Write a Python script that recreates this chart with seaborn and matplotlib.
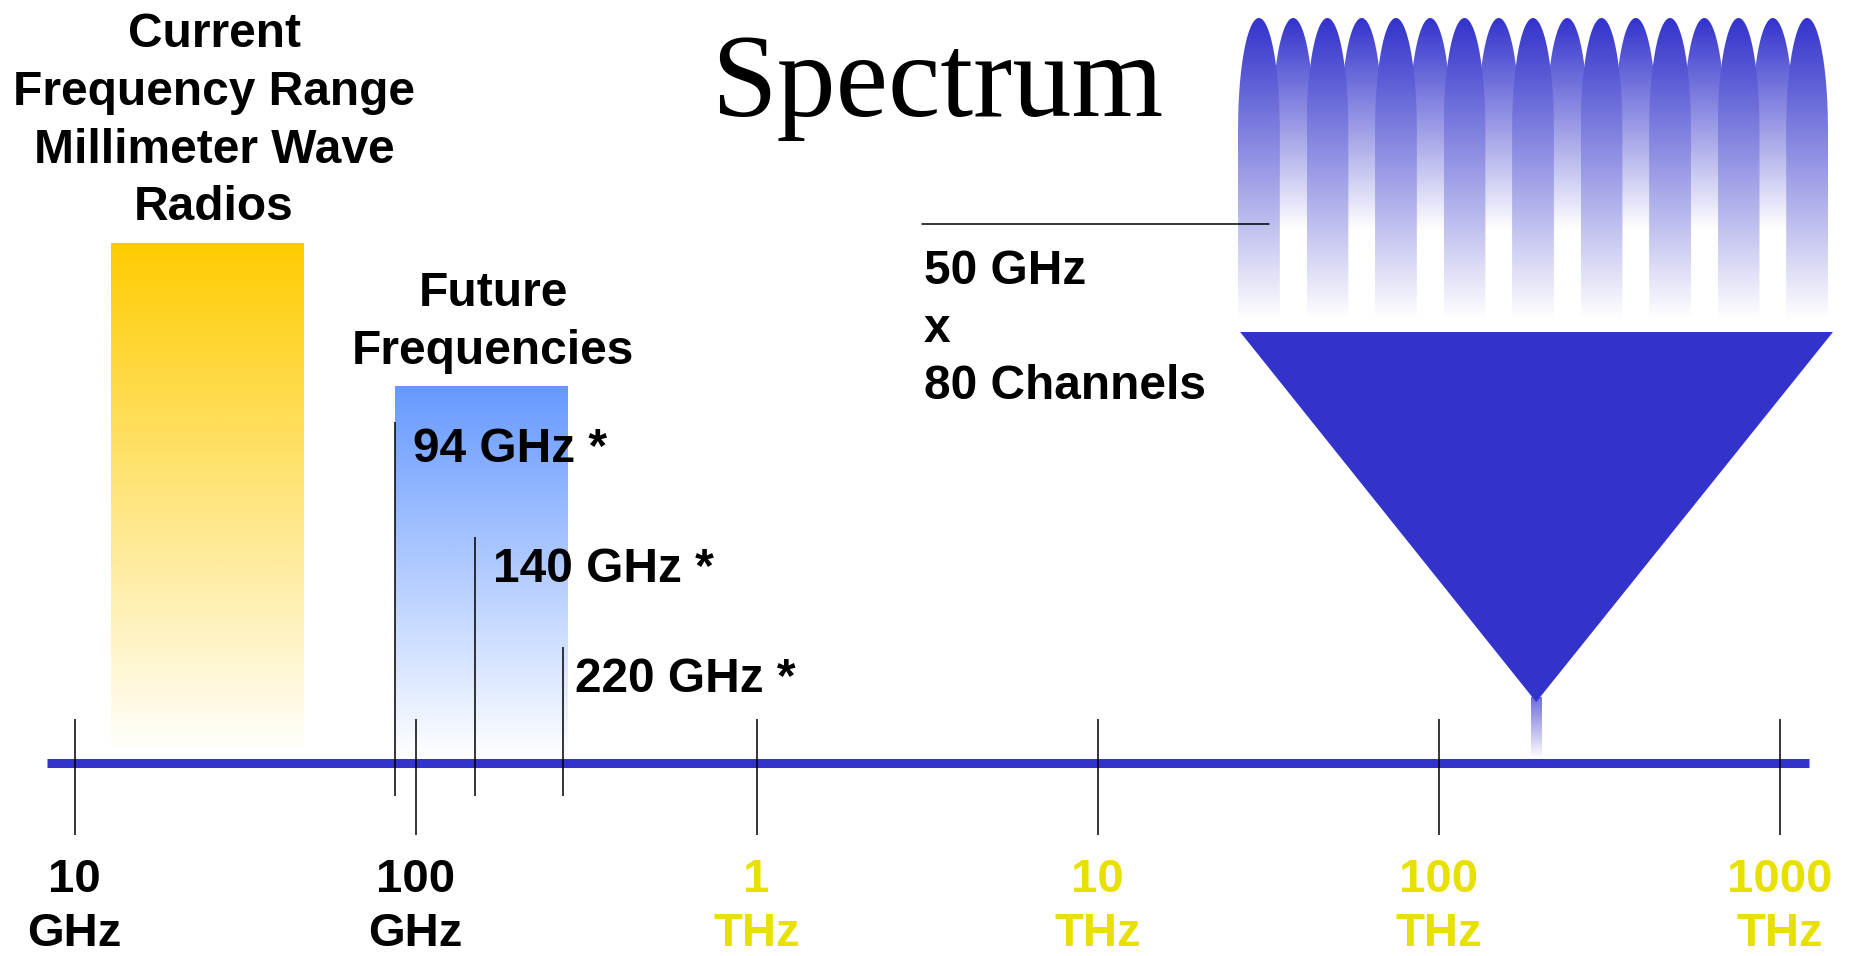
import numpy as np
import matplotlib
matplotlib.use("Agg")
import matplotlib.pyplot as plt
import seaborn as sns
from matplotlib.patches import Polygon
from matplotlib.colors import to_rgb

# ---------------- data ----------------
decade_freqs_ghz = [10, 100, 1000, 10000, 100000, 1000000]
decade_numbers = ["10", "100", "1", "10", "100", "1000"]
decade_units = ["GHz", "GHz", "THz", "THz", "THz", "THz"]

current_band_ghz = [12.8, 47.4]
current_band_level = 521
future_band_ghz = [87.0, 280.0]
future_band_level = 377

future_labels = ["94 GHz *", "140 GHz *", "220 GHz *"]
future_marker_ghz = [87.0, 149.5, 271.0]
future_marker_level = [341, 226, 116]

axis_span_ghz = [8.3, 1.22e6]
wdm_center_ghz = 193400
wdm_view_ghz = [26200, 1435000]
wdm_view_level = 431
wdm_apex_level = 61
leader_ghz = [3062, 31770]
leader_level = 539

channel_index = list(range(17))
channel_peak = [1.0] * 17

title = "Spectrum"
current_title_lines = ["Current", "Frequency Range", "Millimeter Wave", "Radios"]
future_title_lines = ["Future", "Frequencies"]
wdm_text_lines = ["50 GHz", "x", "80 Channels"]

# ---------------- style ----------------
BLUE = "#3333CC"
YELLOW_BAR = "#FFCC00"
BLUE_BAR = "#6699FF"
THZ_YELLOW = "#E8E000"

sns.set_theme(style="white")
plt.rcParams["font.family"] = ["Liberation Sans", "DejaVu Sans"]

W_PX, H_PX, DPI = 1854, 956, 100
fig = plt.figure(figsize=(W_PX / DPI, H_PX / DPI), dpi=DPI)
fig.patch.set_facecolor("white")
ax = fig.add_axes([0, 0, 1, 1])
ax.set_xscale("log")
ax.set_axis_off()
ax.set_zorder(2)

# axis scale: 10 GHz at px 74.5, one decade = 341 px; axis line at px 763
x0_px, dec_px, base_px = 74.5, 341.0, 763.0
xmin = 10 * 10 ** (-x0_px / dec_px)
xmax = 10 * 10 ** ((W_PX - x0_px) / dec_px)
ymin, ymax = base_px - H_PX, base_px


def fx(px):
    return 10 * 10 ** ((px - x0_px) / dec_px)


def hy(py):
    return base_px - py


def vgrad(a, x_0, x_1, y_0, y_1, color, t_bot, t_top, z, clip=None, white_at=None):
    n = 300
    ys = np.linspace(y_0, y_1, n)
    if white_at is None:
        t = np.linspace(t_bot, t_top, n)
    else:
        t = np.clip((ys - white_at) / (y_1 - white_at), 0, 1) * t_top
    c = np.array(to_rgb(color))
    img = 1 - t[:, None, None] * (1 - c)[None, None, :]
    im = a.imshow(img, extent=[x_0, x_1, y_0, y_1], origin="lower",
                  aspect="auto", interpolation="bilinear", zorder=z)
    if clip is not None:
        im.set_clip_path(clip)
    return im


# gradient bars
vgrad(ax, current_band_ghz[0], current_band_ghz[1], 16, current_band_level,
      YELLOW_BAR, 0.02, 1.0, 1)
vgrad(ax, future_band_ghz[0], future_band_ghz[1], 3, future_band_level,
      BLUE_BAR, 0.0, 1.0, 1)

# main axis line
sns.lineplot(x=axis_span_ghz, y=[0, 0], color=BLUE, linewidth=6.5,
             solid_capstyle="butt", ax=ax, zorder=3)

# decade ticks
ax.vlines(decade_freqs_ghz, -72, 44, color="black", lw=1.1, zorder=5)
# future frequency markers
ax.vlines(future_marker_ghz, -33, future_marker_level, color="black", lw=1.1, zorder=5)

# WDM triangle and stem
ax.fill([wdm_view_ghz[0], wdm_view_ghz[1], wdm_center_ghz],
        [wdm_view_level, wdm_view_level, wdm_apex_level],
        color=BLUE, lw=0, zorder=2)
stem_half = 10 ** (5.5 / dec_px)
vgrad(ax, wdm_center_ghz / stem_half, wdm_center_ghz * stem_half, 4, 66,
      BLUE, 0.0, 0.72, 1)

# leader line (drawn above the channel lobes)
sns.lineplot(x=leader_ghz, y=[leader_level] * 2, color="black", linewidth=1.1,
             ax=ax, zorder=4)

# texts
FS = 34.5
for i, line in enumerate(current_title_lines):
    ax.text(fx(214), hy(47 + 57.8 * i), line, ha="center", va="baseline",
            fontsize=FS, fontweight="bold", color="black")
for i, line in enumerate(future_title_lines):
    ax.text(fx(493), hy(306 + 57.8 * i), line, ha="center", va="baseline",
            fontsize=FS, fontweight="bold", color="black")
for lab, xp, yp in zip(future_labels, [413, 493, 575], [462, 582, 692]):
    ax.text(fx(xp), hy(yp), lab, ha="left", va="baseline",
            fontsize=FS, fontweight="bold", color="black", zorder=6)
for i, line in enumerate(wdm_text_lines):
    ax.text(fx(924), hy(284 + 57.5 * i), line, ha="left", va="baseline",
            fontsize=FS, fontweight="bold", color="black")
ax.text(fx(937), hy(116), title, ha="center", va="baseline", fontsize=85,
        family=["Liberation Serif", "DejaVu Serif"], color="black")
for f, num, unit in zip(decade_freqs_ghz, decade_numbers, decade_units):
    col = "black" if unit == "GHz" else THZ_YELLOW
    ax.text(f, hy(892), num, ha="center", va="baseline", fontsize=34,
            fontweight="bold", color=col)
    ax.text(f, hy(946), unit, ha="center", va="baseline", fontsize=34,
            fontweight="bold", color=col)

ax.set_xlim(xmin, xmax)
ax.set_ylim(ymin, ymax)

# ---------------- magnified channel view ----------------
lx0, lx1, ly0, ly1 = 1238, 1828, 18, 325
ax2 = fig.add_axes([lx0 / W_PX, (H_PX - ly1) / H_PX,
                    (lx1 - lx0) / W_PX, (ly1 - ly0) / H_PX])
ax2.set_axis_off()
ax2.patch.set_alpha(0)
ax2.set_zorder(1)
HW = 0.61          # lobe half-width (channel units)
DEPTH = 0.365      # depth of rounded lobe top
u = np.linspace(-HW, HW, 200)
order = [i for i in channel_index if i % 2 == 1] + [i for i in channel_index if i % 2 == 0]
for k in order:
    c = channel_index[k]
    pk = channel_peak[k]
    top = pk * (1 - DEPTH * (1 - np.sqrt(np.clip(1 - (u / HW) ** 2, 0, 1))))
    verts = np.column_stack([np.r_[c + u, c + HW, c - HW], np.r_[top, 0, 0]])
    poly = Polygon(verts, closed=True, facecolor="none", edgecolor="none",
                   transform=ax2.transData)
    ax2.add_patch(poly)
    front = (k % 2 == 0)
    vgrad(ax2, c - HW, c + HW, 0, pk, BLUE, 0, 1.0, 2 if front else 1,
          clip=poly, white_at=(0.02 if front else 0.31))
ax2.set_xlim(-HW, channel_index[-1] + HW)
ax2.set_ylim(0, 1)

fig.savefig("out.png", dpi=DPI, facecolor="white")
